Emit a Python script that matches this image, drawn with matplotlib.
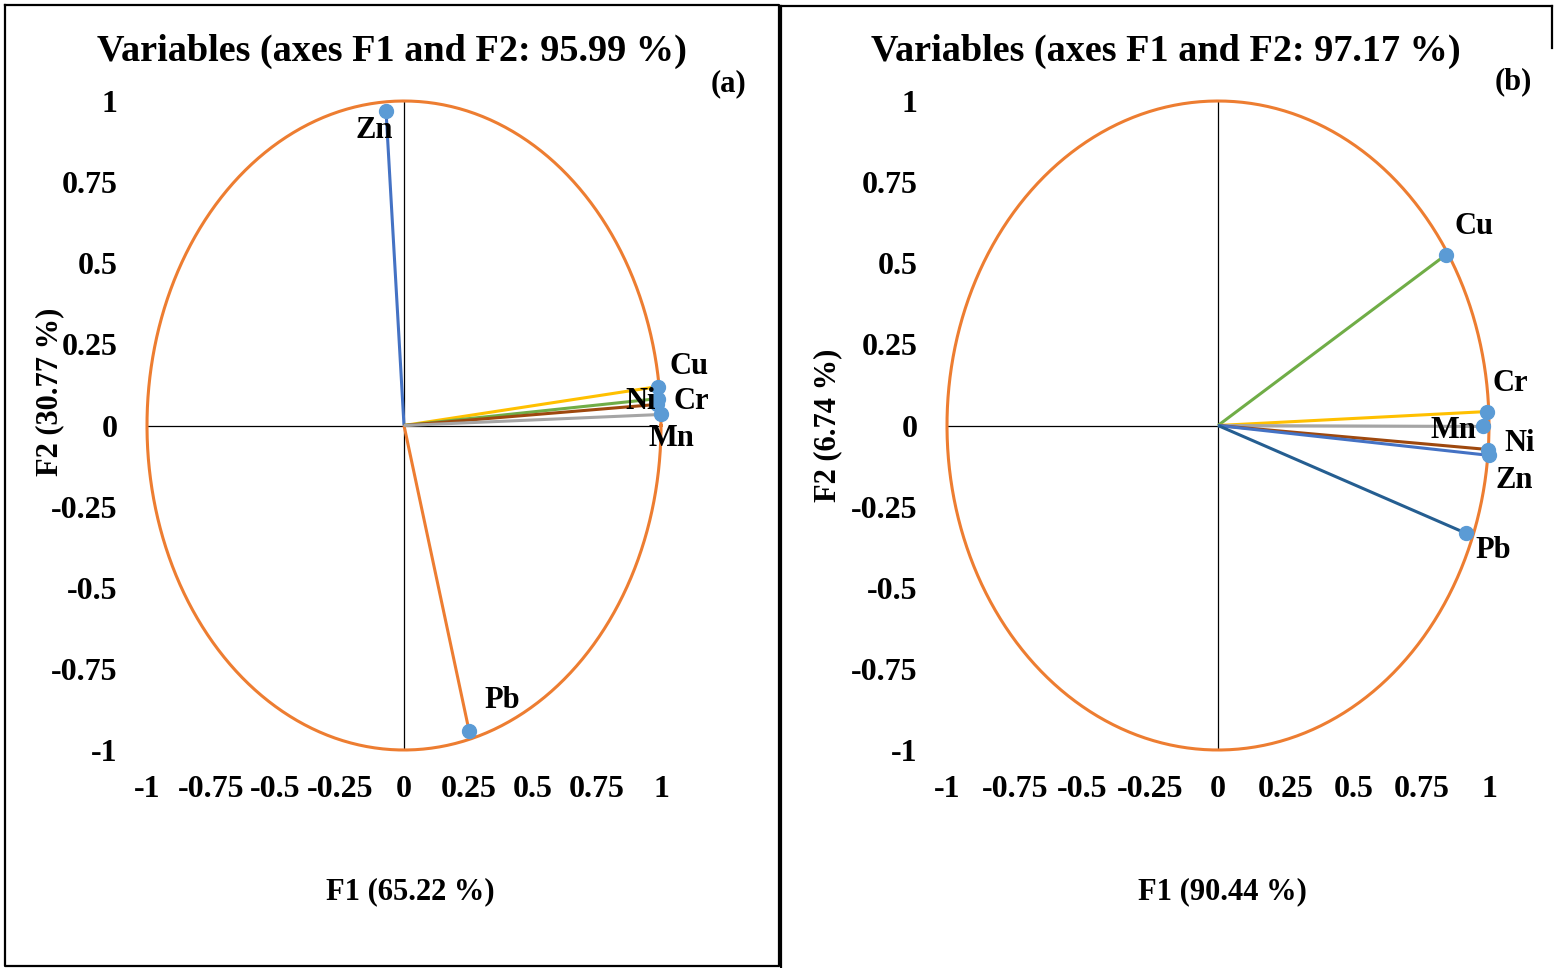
import numpy as np
import matplotlib.pyplot as plt
from matplotlib.lines import Line2D

plt.rcParams['font.family'] = ['Liberation Serif', 'DejaVu Serif']
plt.rcParams['font.weight'] = 'bold'

# loadings
vars_a = ['Zn', 'Pb', 'Cu', 'Cr', 'Ni', 'Mn']
f1_a = [-0.07, 0.253, 0.988, 0.99, 0.985, 1.0]
f2_a = [0.97, -0.94, 0.12, 0.083, 0.065, 0.034]
col_a = ['#4472C4', '#ED7D31', '#FFC000', '#70AD47', '#9E480E', '#A5A5A5']
off_a = [(-12, -20), (33, 30), (31, 20), (33, -3), (-17, 3), (10, -24)]

vars_b = ['Cu', 'Cr', 'Mn', 'Ni', 'Zn', 'Pb']
f1_b = [0.841, 0.993, 0.978, 0.996, 1.0, 0.915]
f2_b = [0.526, 0.043, -0.003, -0.074, -0.092, -0.332]
col_b = ['#70AD47', '#FFC000', '#A5A5A5', '#9E480E', '#4472C4', '#255E91']
off_b = [(28, 28), (23, 28), (-30, -4), (32, 6), (25, -25), (27, -17)]

ticks = [-1, -0.75, -0.5, -0.25, 0, 0.25, 0.5, 0.75, 1]
tick_labels = ['-1', '-0.75', '-0.5', '-0.25', '0', '0.25', '0.5', '0.75', '1']

W, H = 1559, 968
fig = plt.figure(figsize=(W / 100, H / 100), dpi=100)


def px(x0, y0, x1, y1):
    return [x0 / W, 1 - y1 / H, (x1 - x0) / W, (y1 - y0) / H]


def panel(rect, names, xs, ys, cols, offs, title, xlab, ylab, tag,
          title_x, tag_xy, ylab_xy, xlab_x):
    ax = fig.add_axes(rect)
    ax.set_xlim(-1, 1)
    ax.set_ylim(-1, 1)
    for s in ax.spines.values():
        s.set_visible(False)
    ax.set_xticks(ticks)
    ax.set_xticklabels(tick_labels)
    ax.set_yticks(ticks)
    ax.set_yticklabels(tick_labels)
    ax.tick_params(length=0, labelsize=23)
    ax.tick_params(axis='x', pad=18)
    ax.tick_params(axis='y', pad=21)
    for lab in ax.get_xticklabels() + ax.get_yticklabels():
        lab.set_fontweight('bold')

    t = np.linspace(0, 2 * np.pi, 400)
    ax.plot(np.cos(t), np.sin(t), color='#ED7D31', lw=2.2, clip_on=False, zorder=2)
    ax.plot([-1, 1], [0, 0], color='black', lw=0.9, zorder=1)
    ax.plot([0, 0], [-1, 1], color='black', lw=0.9, zorder=1)

    for n, x, y, c, o in zip(names, xs, ys, cols, offs):
        ax.plot([0, x], [0, y], color=c, lw=2.2, zorder=3, solid_capstyle='butt')
    ax.plot(xs, ys, 'o', color='#5B9BD5', ms=10, zorder=4, clip_on=False)
    for n, x, y, o in zip(names, xs, ys, offs):
        ax.annotate(n, (x, y), xytext=o, textcoords='offset pixels',
                    ha='center', va='center', fontsize=22, fontweight='bold', zorder=5)

    ax.text(title_x, 1.077, title, transform=ax.transAxes, ha='center', va='center',
            fontsize=27.5, fontweight='bold')
    ax.text(tag_xy[0], tag_xy[1], tag, transform=ax.transAxes, ha='center', va='center',
            fontsize=22, fontweight='bold')
    ax.text(ylab_xy[0], ylab_xy[1], ylab, transform=ax.transAxes, rotation=90,
            ha='center', va='center', fontsize=22, fontweight='bold')
    ax.text(xlab_x, -0.219, xlab, transform=ax.transAxes, ha='center', va='center',
            fontsize=22, fontweight='bold')
    return ax


panel(px(147, 101, 661, 750), vars_a, f1_a, f2_a, col_a, off_a,
      'Variables (axes F1 and F2: 95.99 %)', 'F1 (65.22 %)', 'F2 (30.77 %)', '(a)',
      0.477, (1.132, 1.026), (-0.189, 0.552), 0.512)
panel(px(947, 101, 1489, 750), vars_b, f1_b, f2_b, col_b, off_b,
      'Variables (axes F1 and F2: 97.17 %)', 'F1 (90.44 %)', 'F2 (6.74 %)', '(b)',
      0.404, (1.044, 1.029), (-0.22, 0.5), 0.509)

# panel frames
def fline(xs, ys, lw=1.6):
    fig.add_artist(Line2D([x / W for x in xs], [1 - y / H for y in ys],
                          color='black', lw=lw, transform=fig.transFigure))

fline([5, 779, 779, 5, 5], [5, 5, 966, 966, 5])
fline([781, 781], [6, 968])
fline([781, 1552], [6, 6])
fline([1552, 1552], [6, 48])

fig.savefig('out.png', dpi=100)
